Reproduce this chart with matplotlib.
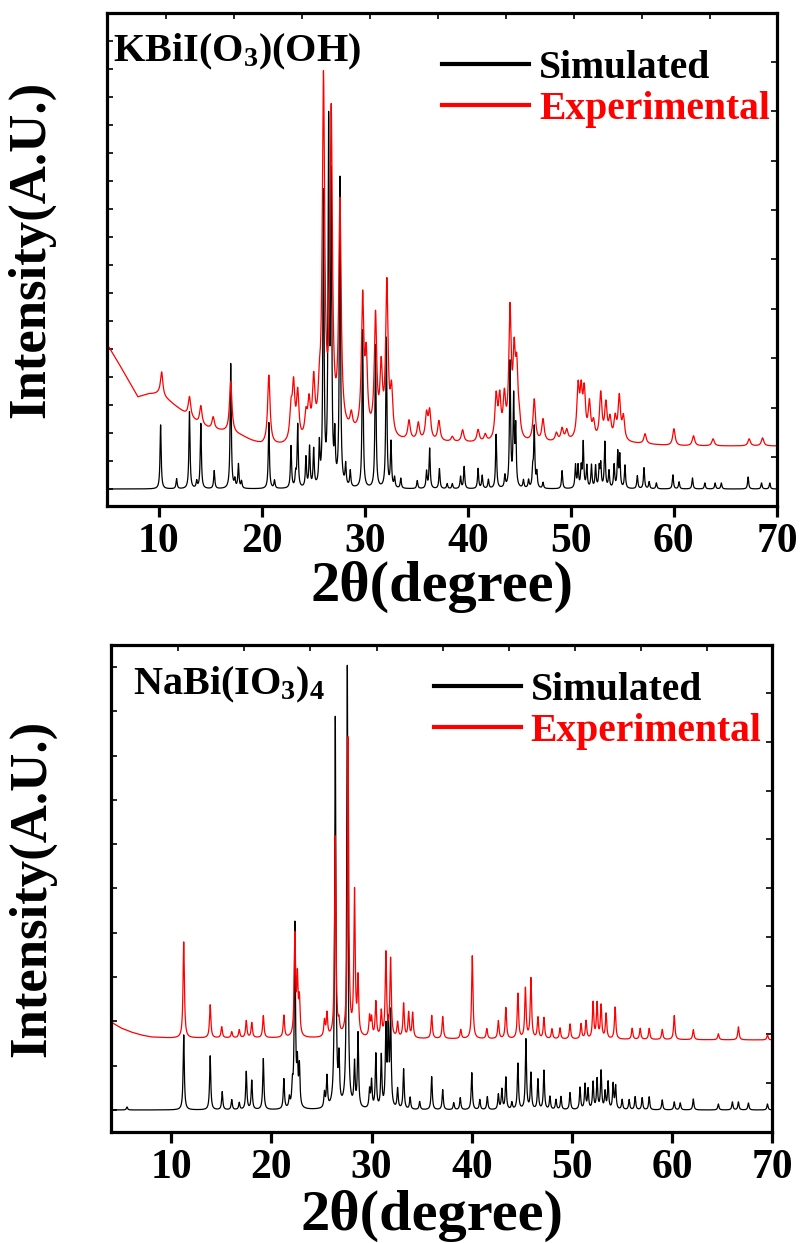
import numpy as np
import matplotlib
matplotlib.use('Agg')
import matplotlib.pyplot as plt

plt.rcParams['font.family'] = ['Liberation Serif', 'DejaVu Serif']
plt.rcParams['font.weight'] = 'bold'
plt.rcParams['mathtext.fontset'] = 'custom'
plt.rcParams['mathtext.rm'] = 'Liberation Serif:bold'
plt.rcParams['mathtext.it'] = 'Liberation Serif:bold'
plt.rcParams['mathtext.bf'] = 'Liberation Serif:bold'

# KBiI(O3)(OH): simulated peak list (2theta, height)
kb_sim_pos = [10.2, 11.75, 13.0, 13.7, 14.1, 15.4, 17.0, 17.4, 17.75, 18.05,
              20.7, 21.25, 22.85, 23.3, 23.5, 24.3, 24.65, 25.05, 25.6, 26.0,
              26.5, 26.75, 27.1, 27.6, 28.15, 28.6, 29.8, 31.05, 32.1, 32.55,
              32.9, 33.5, 35.1, 36.0, 36.3, 37.25, 38.0, 38.5, 39.3, 39.65,
              41.0, 41.4, 42.0, 42.75, 43.6, 44.1, 44.45, 44.65, 45.4, 45.9,
              46.3, 46.45, 46.7, 47.3, 49.15, 50.45, 50.7, 51.0, 51.2, 51.55,
              52.0, 52.4, 52.75, 52.9, 53.3, 53.7, 54.2, 54.55, 54.75, 55.25,
              56.45, 57.1, 57.6, 58.3, 59.9, 60.5, 61.8, 63.0, 64.0, 64.6,
              67.2, 68.5, 69.3]
kb_sim_hgt = [64, 10, 77, 7, 65, 18, 125, 8, 24, 7,
              66, 8, 42, 13, 63, 30, 40, 37, 40, 290,
              352, 295, 45, 308, 21, 16, 158, 143, 150, 45,
              10, 10, 8, 17, 40, 20, 5, 5, 12, 22,
              20, 13, 9, 54, 12, 125, 88, 58, 8, 8,
              17, 60, 15, 6, 18, 23, 22, 20, 45, 22,
              23, 22, 20, 23, 46, 17, 23, 35, 32, 23,
              13, 21, 7, 6, 14, 7, 11, 6, 6, 6,
              12, 6, 6]

# KBiI(O3)(OH): experimental background and peaks
kb_bg_x = [5, 6, 7, 8, 9, 10, 11, 12, 13, 14, 15, 16, 17, 18, 19, 20, 22, 24,
           26, 28, 30, 33, 36, 40, 45, 50, 55, 60, 65, 70]
kb_bg_y = [145, 128, 110, 92, 95, 95, 88, 80, 72, 64, 60, 58, 56, 53, 48, 44,
           43, 45, 48, 55, 52, 48, 47, 46, 45, 47, 46, 43, 43, 43]
kb_exp_pos = [10.3, 13.0, 14.1, 15.3, 17.0, 20.7, 22.85, 23.1, 23.5, 24.3,
              24.6, 25.05, 25.6, 26.0, 26.75, 27.6, 28.7, 29.8, 30.15, 31.05,
              31.6, 32.15, 32.6, 34.3, 35.2, 36.0, 36.3, 37.2, 38.5, 39.5,
              41.0, 41.7, 42.75, 43.1, 43.55, 44.1, 44.5, 44.75, 45.0, 46.45,
              47.3, 48.6, 49.15, 49.6, 50.7, 51.0, 51.3, 51.8, 52.2, 52.9,
              53.4, 53.8, 54.3, 54.7, 55.1, 57.2, 60.0, 61.9, 63.8, 67.3,
              68.6]
kb_exp_hgt = [24, 20, 19, 12, 51, 69, 30, 53, 46, 22,
              33, 54, 31, 352, 315, 225, 15, 132, 70, 117,
              63, 151, 43, 19, 17, 25, 28, 20, 5, 12,
              12, 7, 43, 40, 40, 126, 75, 62, 15, 42,
              22, 8, 12, 10, 50, 43, 45, 35, 16, 46,
              35, 20, 21, 43, 23, 10, 17, 10, 7, 7,
              8]

# NaBi(IO3)4: simulated peak list
nb_sim_pos = [5.6, 11.26, 13.9, 15.1, 16.05, 16.8, 17.5, 18.05, 19.2, 21.25,
              21.8, 22.1, 22.35, 22.6, 22.8, 25.3, 25.55, 26.38, 26.75, 27.58,
              28.3, 28.65, 29.8, 30.0, 30.43, 30.97, 31.43, 31.66, 31.9, 32.6,
              33.2, 33.85, 34.8, 36.0, 37.1, 38.2, 38.85, 40.0, 40.8, 41.55,
              42.65, 43.0, 43.4, 44.0, 44.6, 45.4, 45.9, 46.6, 47.2, 47.8,
              48.4, 48.9, 49.8, 50.8, 51.3, 51.6, 52.1, 52.5, 52.9, 53.3,
              53.6, 54.1, 54.35, 55.0, 55.7, 56.3, 57.0, 57.7, 59.0, 60.2,
              60.8, 62.1, 64.6, 66.0, 66.6, 67.6, 69.5]
nb_sim_hgt = [3, 75, 54, 18, 10, 7, 38, 29, 51, 30,
              10, 20, 183, 40, 40, 15, 31, 390, 45, 442,
              43, 74, 18, 27, 54, 52, 78, 80, 93, 20,
              40, 12, 8, 33, 20, 7, 12, 37, 10, 13,
              15, 20, 32, 7, 46, 70, 36, 30, 39, 13,
              10, 13, 17, 22, 25, 20, 27, 30, 38, 17,
              27, 25, 23, 10, 10, 13, 12, 13, 10, 8,
              7, 11, 6, 8, 8, 7, 6]

# NaBi(IO3)4: experimental background and peaks
nb_bg_x = [4, 5, 6, 7, 8, 10, 20, 40, 70]
nb_bg_y = [88, 82, 78, 75, 73, 72, 72, 71, 70]
nb_exp_pos = [11.26, 13.9, 15.05, 16.05, 16.8, 17.5, 18.05, 19.2, 21.25, 22.35,
              22.6, 22.8, 25.3, 25.55, 26.38, 26.75, 27.65, 28.3, 28.65, 29.8,
              30.0, 30.43, 30.97, 31.43, 31.9, 32.6, 33.2, 33.7, 34.1, 36.0,
              37.1, 38.9, 40.05, 41.5, 42.65, 43.4, 44.6, 45.35, 45.9, 46.6,
              47.2, 48.0, 48.8, 49.8, 50.9, 51.4, 52.1, 52.5, 52.9, 53.4,
              54.3, 56.0, 56.8, 57.7, 59.0, 60.2, 62.1, 64.6, 66.6, 69.5]
nb_exp_hgt = [96, 33, 11, 6, 8, 17, 15, 22, 22, 100,
              55, 35, 16, 23, 200, 11, 298, 143, 56, 20,
              18, 35, 25, 84, 78, 15, 34, 25, 25, 23,
              22, 9, 83, 10, 18, 31, 45, 50, 60, 21,
              21, 10, 11, 15, 15, 18, 36, 35, 33, 25,
              32, 11, 11, 11, 10, 24, 10, 6, 13, 5]

x_ticks = [10, 20, 30, 40, 50, 60, 70]


def pattern(x, pos, hgt, fwhm):
    y = np.zeros_like(x)
    for p, h in zip(pos, hgt):
        y += h / (1 + ((x - p) / (fwhm / 2)) ** 2)
    return y


def style_axes(ax, xlim, ylim, left_ticks, right_ticks):
    ax.set_xlim(*xlim)
    ax.set_ylim(*ylim)
    for s in ax.spines.values():
        s.set_linewidth(2.3)
    ax.set_xticks(x_ticks)
    ax.tick_params(axis='x', direction='out', length=8, width=2.3,
                   labelsize=30, pad=4)
    ax.set_yticks(left_ticks)
    ax.set_yticklabels([])
    ax.tick_params(axis='y', direction='in', length=4, width=1.2)
    sec_r = ax.secondary_yaxis('right')
    sec_r.set_yticks(right_ticks)
    sec_r.set_yticklabels([])
    sec_r.tick_params(direction='in', length=4, width=1.2)
    sec_t = ax.secondary_xaxis('top')
    sec_t.set_xticks(np.arange(10.7, 70, 6.6))
    sec_t.set_xticklabels([])
    sec_t.tick_params(direction='in', length=4, width=1.2)
    ax.set_xlabel('2θ(degree)', fontsize=42, fontweight='bold')
    ax.set_ylabel('Intensity(A.U.)', fontsize=38, fontweight='bold')


def add_legend(ax, anchor):
    leg = ax.legend(loc='upper left', bbox_to_anchor=anchor, frameon=False,
                    fontsize=28.5, handlelength=2.2, handletextpad=0.25,
                    borderpad=0, borderaxespad=0, labelspacing=0.1)
    for line in leg.get_lines():
        line.set_linewidth(3)
    leg.get_texts()[1].set_color('red')


fig = plt.figure(figsize=(8.04, 12.43), dpi=100)

# top panel
ax1 = fig.add_axes([0.1331, 0.5929, 0.8333, 0.3966])
x1 = np.arange(5, 70.001, 0.01)
sim1 = pattern(x1, kb_sim_pos, kb_sim_hgt, 0.13)
exp1 = np.interp(x1, kb_bg_x, kb_bg_y) + pattern(x1, kb_exp_pos, kb_exp_hgt, 0.28)
ax1.plot(x1, sim1, color='black', lw=0.9, label='Simulated')
ax1.plot(x1, exp1, color='red', lw=0.9, label='Experimental')
style_axes(ax1, (5, 70), (-17, 476), np.arange(0, 477, 28),
           np.arange(32, 476, 49.4))
ax1.xaxis.set_label_coords(0.5, -0.112)
ax1.yaxis.set_label_coords(-0.078, 0.52)
ax1.text(0.009, 0.962, 'KBiI(O$_3$)(OH)', transform=ax1.transAxes,
         fontsize=29, va='top', ha='left')
add_legend(ax1, (0.50, 0.925))

# bottom panel
ax2 = fig.add_axes([0.138, 0.0893, 0.8228, 0.3918])
x2 = np.arange(4, 70.001, 0.01)
sim2 = pattern(x2, nb_sim_pos, nb_sim_hgt, 0.14)
exp2 = np.interp(x2, nb_bg_x, nb_bg_y) + pattern(x2, nb_exp_pos, nb_exp_hgt, 0.16)
ax2.plot(x2, sim2, color='black', lw=0.9, label='Simulated')
ax2.plot(x2, exp2, color='red', lw=0.9, label='Experimental')
style_axes(ax2, (4, 70), (-22, 465), np.arange(0, 466, 44.3),
           np.arange(27, 465, 48.7))
ax2.xaxis.set_label_coords(0.485, -0.118)
ax2.yaxis.set_label_coords(-0.082, 0.5)
ax2.text(0.033, 0.96, 'NaBi(IO$_3$)$_4$', transform=ax2.transAxes,
         fontsize=29, va='top', ha='left')
add_legend(ax2, (0.488, 0.945))

fig.savefig('out.png', dpi=100)
